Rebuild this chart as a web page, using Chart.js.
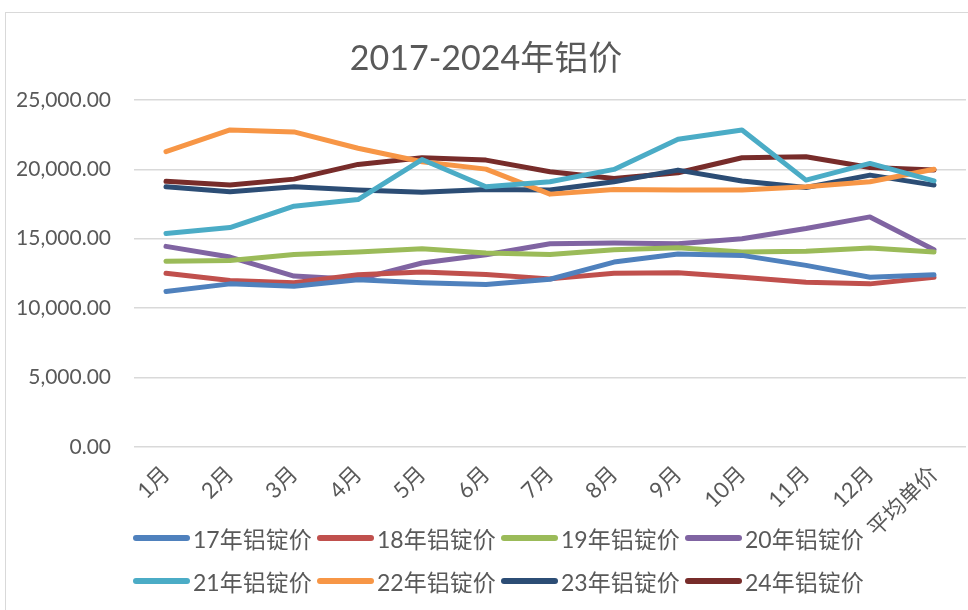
<!DOCTYPE html>
<html>
<head>
<meta charset="utf-8">
<script src="https://cdn.jsdelivr.net/npm/chart.js@4"></script>
<style>
  html, body { margin: 0; padding: 0; background: #fff; overflow: hidden; }
  body { width: 968px; height: 610px; position: relative; font-family: Lato, 'Noto Sans CJK SC', sans-serif; }
  #frame { position: absolute; left: 5px; top: 12px; width: 1000px; height: 700px; border: 1.5px solid #d9d9d9; box-sizing: border-box; }
  #wrap { position: absolute; left: 6px; top: 13px; width: 980px; height: 540px; }
  #legend { position: absolute; left: 0; top: 0; width: 968px; height: 610px; pointer-events: none; }
  .item { position: absolute; height: 30px; display: flex; align-items: center; color: #595959; font-size: 23px; white-space: nowrap; }
  .swatch { width: 57px; height: 6px; border-radius: 3px; margin-right: 3px; }
</style>
</head>
<body>
<div id="frame"></div>
<div id="wrap"><canvas id="myChart" width="980" height="540"></canvas></div>
<div id="legend"></div>
<script>
const months = ['1月', '2月', '3月', '4月', '5月', '6月', '7月', '8月', '9月', '10月', '11月', '12月', '平均单价'];

const names = ['17年铝锭价', '18年铝锭价', '19年铝锭价', '20年铝锭价', '21年铝锭价', '22年铝锭价', '23年铝锭价', '24年铝锭价'];
const colors = ['#4F81BD', '#C0504D', '#9BBB59', '#8064A2', '#4BACC6', '#F79646', '#2C4D75', '#772C2A'];

const p17 = [11200, 11750, 11580, 12050, 11830, 11700, 12080, 13320, 13900, 13800, 13080, 12230, 12400];
const p18 = [12520, 11990, 11830, 12400, 12600, 12430, 12110, 12520, 12550, 12230, 11870, 11750, 12230];
const p19 = [13370, 13440, 13870, 14040, 14280, 13970, 13870, 14210, 14350, 14040, 14090, 14330, 14040];
const p20 = [14450, 13680, 12310, 12070, 13250, 13850, 14640, 14690, 14640, 15000, 15730, 16570, 14210];
const p21 = [15370, 15800, 17340, 17820, 20700, 18740, 19100, 19990, 22160, 22830, 19220, 20420, 19170];
const p22 = [21270, 22830, 22690, 21510, 20540, 20010, 18210, 18540, 18500, 18500, 18740, 19100, 20000];
const p23 = [18740, 18380, 18740, 18500, 18350, 18540, 18500, 19100, 19940, 19150, 18690, 19580, 18860];
const p24 = [19130, 18860, 19290, 20350, 20830, 20660, 19820, 19340, 19750, 20830, 20900, 20130, 19940];

const series = [p17, p18, p19, p20, p21, p22, p23, p24];

Chart.defaults.font.family = "Lato, 'Noto Sans CJK SC', sans-serif";
Chart.defaults.color = '#595959';

const datasets = [];
for (let i = 0; i < series.length; i++) {
    datasets.push({
        label: names[i],
        data: series[i],
        borderColor: colors[i],
        backgroundColor: colors[i],
        borderWidth: 5,
        pointRadius: 0,
        tension: 0,
        borderCapStyle: 'round',
        borderJoinStyle: 'round'
    });
}

const config = {
    type: 'line',
    data: { labels: months, datasets: datasets },
    options: {
        responsive: false,
        animation: false,
        layout: { padding: { left: 0, right: 20, top: 0, bottom: 5 } },
        plugins: {
            legend: { display: false },
            tooltip: { enabled: false },
            title: {
                display: true,
                text: '2017-2024年铝价',
                color: '#595959',
                font: { size: 34, weight: 'normal' },
                padding: { top: 26, bottom: 20 }
            }
        },
        scales: {
            x: {
                offset: true,
                grid: { display: false },
                border: { display: false },
                ticks: {
                    minRotation: 45,
                    maxRotation: 45,
                    autoSkip: false,
                    color: '#595959',
                    font: { size: 22 },
                    padding: 6
                }
            },
            y: {
                min: 0,
                max: 25000,
                grid: { color: '#d9d9d9', lineWidth: 1.5, drawTicks: false },
                border: { display: false },
                afterFit: function (scale) { scale.width = 128; },
                ticks: {
                    stepSize: 5000,
                    padding: 23,
                    color: '#595959',
                    font: { size: 21 },
                    callback: function (v) {
                        return Number(v).toLocaleString('en-US', { minimumFractionDigits: 2, maximumFractionDigits: 2 });
                    }
                }
            }
        }
    }
};

const myChart = new Chart(document.getElementById('myChart'), config);

// legend drawn as html, 4 items per row like the original
const legend = document.getElementById('legend');
for (let i = 0; i < datasets.length; i++) {
    const item = document.createElement('div');
    item.className = 'item';
    item.style.left = (133 + (i % 4) * 184) + 'px';
    item.style.top = (523 + Math.floor(i / 4) * 43) + 'px';
    const sw = document.createElement('div');
    sw.className = 'swatch';
    sw.style.background = datasets[i].borderColor;
    const txt = document.createElement('span');
    txt.textContent = datasets[i].label;
    item.appendChild(sw);
    item.appendChild(txt);
    legend.appendChild(item);
}
</script>
</body>
</html>
